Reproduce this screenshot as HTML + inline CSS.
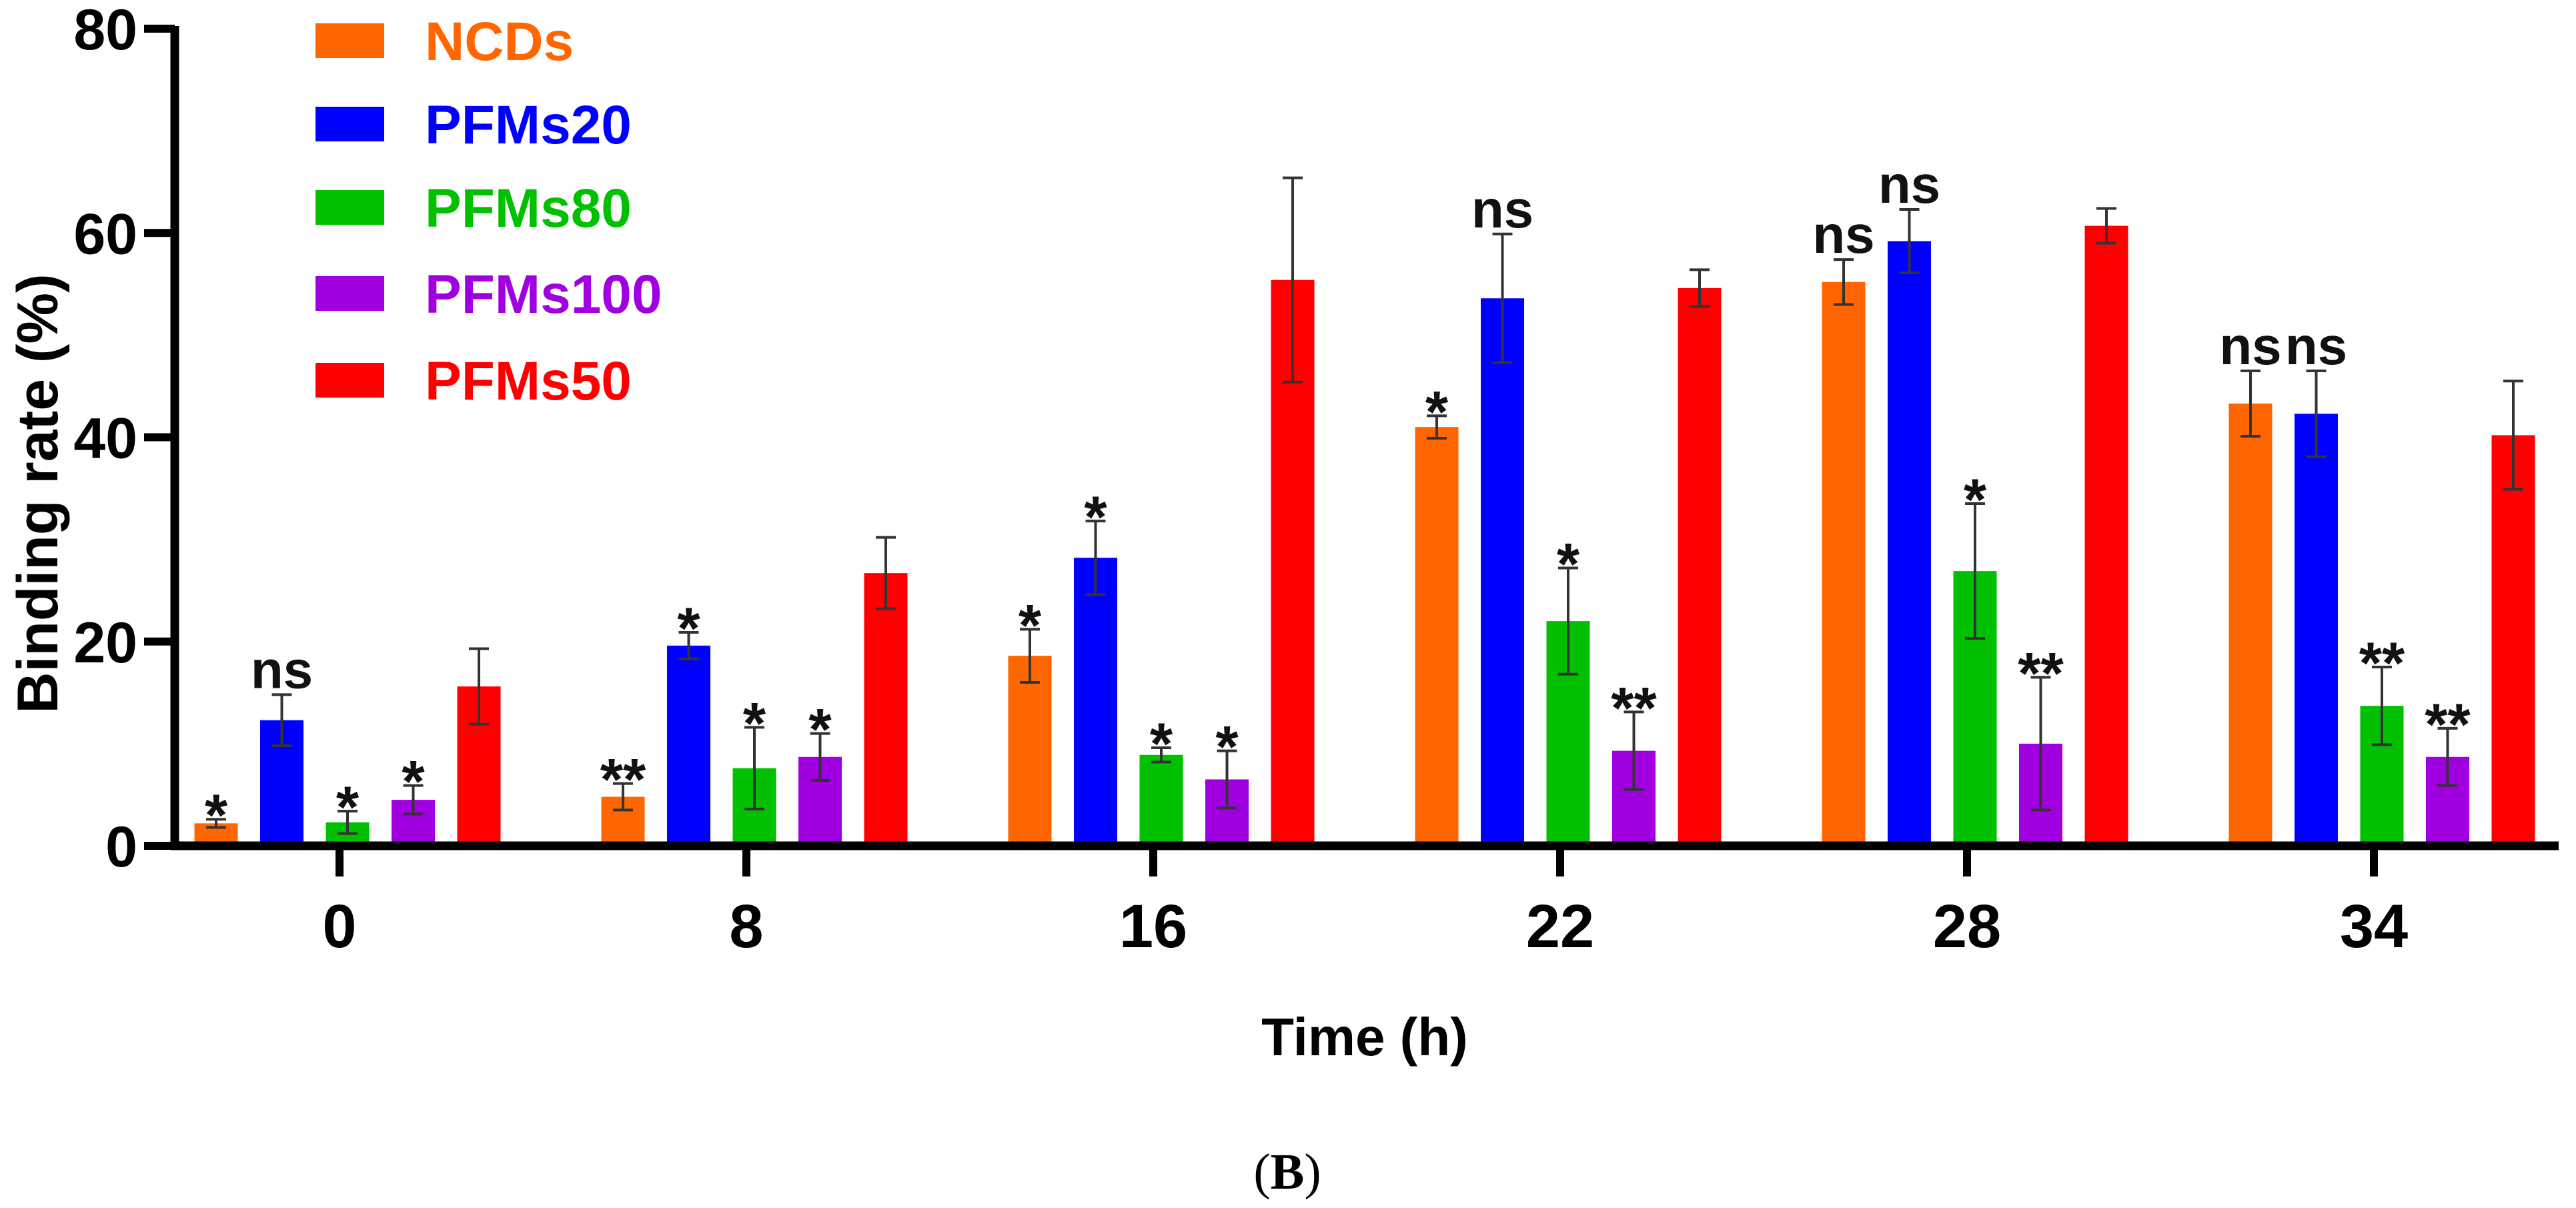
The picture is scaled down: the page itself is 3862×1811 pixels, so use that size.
<!DOCTYPE html>
<html><head><meta charset="utf-8"><style>
html,body{margin:0;padding:0;background:#fff;}
svg{display:block;font-family:"Liberation Sans",Arial,sans-serif;}
</style></head><body>
<svg id="chart" width="3862" height="1811" viewBox="0 0 3862 1811" xmlns="http://www.w3.org/2000/svg"></svg>
<script>
const categories = ["0","8","16","22","28","34"];
const seriesNames = ["NCDs","PFMs20","PFMs80","PFMs100","PFMs50"];
const seriesColors = ["#ff6600","#0000ff","#00c000","#a000e0","#ff0000"];
const ncds = [2.2,4.8,18.6,41.0,55.2,43.3];
const pfms20 = [12.3,19.6,28.2,53.6,59.2,42.3];
const pfms80 = [2.3,7.6,8.9,22.0,26.9,13.7];
const pfms100 = [4.5,8.7,6.5,9.3,10.0,8.7];
const pfms50 = [15.6,26.7,55.4,54.6,60.7,40.2];
const errNcds = [0.4,1.3,2.6,1.1,2.2,3.2];
const errPfms20 = [2.5,1.3,3.6,6.3,3.1,4.2];
const errPfms80 = [1.1,4.0,0.7,5.2,6.6,3.8];
const errPfms100 = [1.4,2.3,2.8,3.8,6.5,2.8];
const errPfms50 = [3.7,3.5,10.0,1.8,1.7,5.3];
const sigNcds = ["*","**","*","*","ns","ns"];
const sigPfms20 = ["ns","*","*","ns","ns","ns"];
const sigPfms80 = ["*","*","*","*","*","**"];
const sigPfms100 = ["*","*","*","**","**","**"];
const yTicks = [0,20,40,60,80];

const values=[ncds,pfms20,pfms80,pfms100,pfms50];
const errs=[errNcds,errPfms20,errPfms80,errPfms100,errPfms50];
const sigs=[sigNcds,sigPfms20,sigPfms80,sigPfms100,null];
const NS="http://www.w3.org/2000/svg";
const svg=document.getElementById('chart');
const y0=1268, y80=43, xL=262, xR=3836;
function y(v){return y0-(v/80)*(y0-y80);}
function xc(i){return 509+i*610;}
function barX(i,s){return xc(i)+12+(s-2)*98.5;}
function el(tag,attrs,text){const e=document.createElementNS(NS,tag);for(const k in attrs)e.setAttribute(k,attrs[k]);if(text!==undefined)e.textContent=text;svg.appendChild(e);return e;}

for(let s=0;s<5;s++){for(let i=0;i<categories.length;i++){
  const v=values[s][i];const bx=barX(i,s);
  const r=el('rect',{x:bx-32.5,y:y(v),width:65,height:y0-y(v),fill:seriesColors[s]});
  
  
  const e=errs[s][i];const g='#333';
  const l=el('path',{d:`M${bx},${y(v+e)}V${y(Math.max(v-e,0))}M${bx-15},${y(v+e)}H${bx+15}M${bx-15},${y(Math.max(v-e,0))}H${bx+15}`,stroke:g,'stroke-width':4,fill:'none'});
  
  
  if(sigs[s]){const t=el('text',{x:bx,y:y(v+e)-(sigs[s][i]==='ns'?10:-24),'text-anchor':'middle','font-size':sigs[s][i]==='ns'?80:88,'font-weight':'bold',fill:'#111'},sigs[s][i]);
    
    }
}}
const ax=el('path',{d:`M${xL},${y80-4}V${y0}H${xR}`,stroke:'#000','stroke-width':13,fill:'none'});


yTicks.forEach(v=>{
  const t=el('path',{d:`M${xL-46},${y(v)}H${xL}`,stroke:'#000','stroke-width':12});
  
  
  const lb=el('text',{x:xL-56,y:y(v)+31,'text-anchor':'end','font-size':86,'font-weight':'bold'},String(v));
  
  
});
categories.forEach((c,i)=>{
  const t=el('path',{d:`M${xc(i)},${y0}V${y0+46}`,stroke:'#000','stroke-width':12});
  
  
  const lb=el('text',{x:xc(i),y:1420,'text-anchor':'middle','font-size':92,'font-weight':'bold'},c);
  
  
});
const yt=el('text',{x:0,y:0,transform:'translate(86,740) rotate(-90)','text-anchor':'middle','font-size':86,'font-weight':'bold'},'Binding rate (%)');


const xt=el('text',{x:2046,y:1582,'text-anchor':'middle','font-size':80,'font-weight':'bold'},'Time (h)');


const pl=el('text',{x:1930,y:1782,'text-anchor':'middle','font-size':76,'font-family':'"Liberation Serif",serif'},'');


pl.innerHTML='(<tspan font-weight="bold">B</tspan>)';
const legY=[61,186,311,440,570];
seriesNames.forEach((n,s)=>{
  const r=el('rect',{x:473,y:legY[s]-26,width:103,height:52,fill:seriesColors[s]});
  
  
  const t=el('text',{x:637,y:legY[s]+29,'font-size':82,'font-weight':'bold',fill:seriesColors[s]},n);
  
  
});
</script>
</body></html>
